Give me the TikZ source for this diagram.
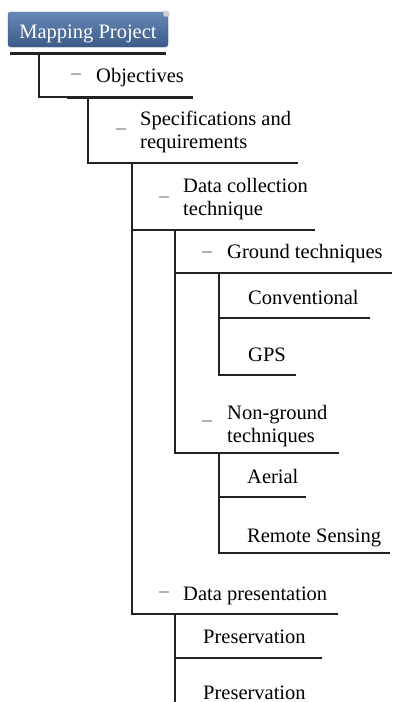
\documentclass[tikz,border=0pt]{standalone}
\usepackage{fontspec}
\setmainfont{Liberation Serif}
\newfontfamily\mapfont{Liberation Serif}
\usetikzlibrary{positioning}
\definecolor{rootTop}{RGB}{104,137,183}
\definecolor{rootBottom}{RGB}{58,90,136}
\definecolor{rootEdge}{RGB}{50,76,114}
\definecolor{lineDark}{RGB}{34,34,34}
\tikzset{
  item/.style={anchor=base west, inner sep=0pt, align=left, text=black, font=\mapfont\fontsize{20.5}{22.5}\selectfont},
  rootbox/.style={rectangle, rounded corners=3pt, draw=rootEdge, top color=rootTop, bottom color=rootBottom, text=white, minimum width=160pt, minimum height=35pt, text height=17pt, text depth=0pt, inner sep=0pt, font=\mapfont\fontsize{20.5}{22.5}\selectfont},
  handle/.style={circle, fill=gray!35, draw=gray!55, inner sep=0pt, minimum size=6pt},
  fold/.style={rectangle, fill=gray!60, inner sep=0pt, minimum width=10pt, minimum height=1.6pt},
  branch/.style={draw=lineDark, line width=1.3pt},
  underline/.style={draw=lineDark, line width=3pt}
}

\begin{document}
\begin{tikzpicture}[x=1pt,y=-1pt]
  \useasboundingbox (0,0) rectangle (392,702);
  \clip (0,0) rectangle (392,702);

  % root
  \node[rootbox] (root) at (88,29.5) {Mapping Project};
  \node[handle] (root-handle) at ([xshift=-2pt,yshift=-2pt]root.north east) {};

  % items (two-line items sit on their last baseline)
  \node[item] (obj) at (96,82) {Objectives};
  \node[item] (spec) at (140,148) {Specifications and\\requirements};
  \node[item] (dcol) at (183,215) {Data collection\\technique};
  \node[item] (ground) at (227,258) {Ground techniques};
  \node[item] (conv) at (248,304) {Conventional};
  \node[item] (gps) at (248,361) {GPS};
  \node[item] (nonground) at (227,442) {Non-ground\\techniques};
  \node[item] (aerial) at (247,483) {Aerial};
  \node[item] (remote) at (247,542) {Remote Sensing};
  \node[item] (dpres) at (183,600) {Data presentation};
  \node[item] (pres1) at (203,643) {Preservation};
  \node[item] (pres2) at (203,699) {Preservation};

  % collapse marks
  \foreach \n/\x/\y in {obj/76/74, spec/121/129, dcol/164/197, ground/207/252, nonground/207/421, dpres/164/592}
    \node[fold] (\n-fold) at (\x,\y) {};

  % underline ends (-r) and branch starts (-s)
  \foreach \n/\x/\y in {root-l/10/53, root-r/166/53, root-s/39/53, obj-l/67/97, obj-r/193/97, obj-s/88/97,
      spec-r/298/163, spec-s/132/163, dcol-r/315/230, dcol-s/175/230, ground-r/392/273, ground-s/219/273,
      conv-r/370/318, gps-r/296/375, nonground-r/339/453, nonground-s/219/453, aerial-r/306/497,
      remote-r/390/553, dpres-r/338/614, dpres-s/175/614, pres1-r/322/658, pres2-r/322/720}
    \coordinate (\n) at (\x,\y);

  \foreach \p/\c in {root/obj, obj/spec, spec/dcol, spec/dpres, dcol/ground, dcol/nonground, ground/conv, ground/gps,
      nonground/aerial, nonground/remote, dpres/pres1, dpres/pres2}
    \draw[branch] (\p-s) |- (\c-r);

  \draw[underline] (root-l) -- (root-r);
  \draw[underline] (obj-l) -- (obj-r);
\end{tikzpicture}
\end{document}
